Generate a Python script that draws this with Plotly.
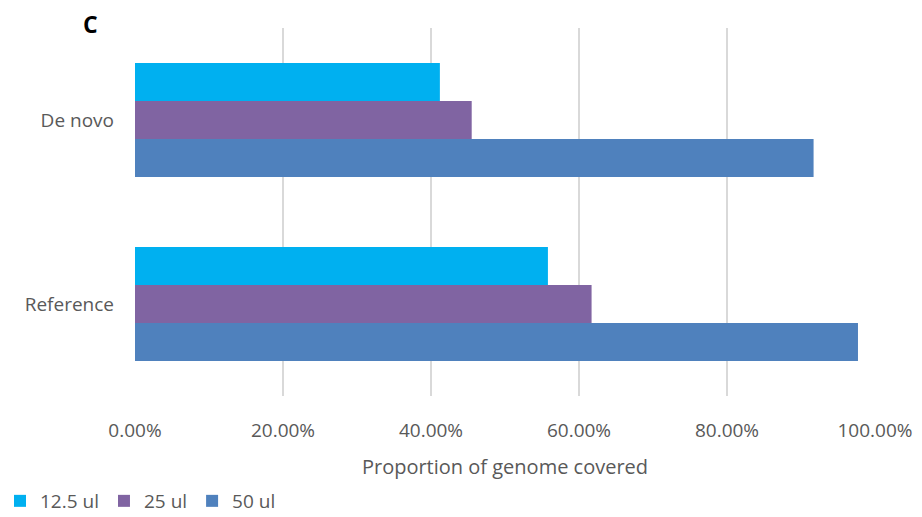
import plotly.graph_objects as go

# Assembly method categories (top to bottom)
categories = ["De novo", "Reference"]

# Proportion of genome covered per input volume
series_names = ["12.5 ul", "25 ul", "50 ul"]
cov_12_5 = [0.412, 0.558]
cov_25 = [0.455, 0.617]
cov_50 = [0.917, 0.977]

colors = ["#00B0F0", "#8064A2", "#4F81BD"]
values = [cov_12_5, cov_25, cov_50]

FONT = "Open Sans"
GREY = "#595959"

fig = go.Figure()
for name, vals, col in zip(series_names, values, colors):
    fig.add_trace(go.Bar(
        y=categories, x=vals, name=name, orientation="h",
        marker=dict(color=col, line=dict(width=0)),
    ))

fig.update_layout(
    width=922, height=517,
    barmode="group", bargap=0.38, bargroupgap=0,
    plot_bgcolor="white", paper_bgcolor="white",
    margin=dict(l=135, r=47, t=28, b=121),
    font=dict(family=FONT, color=GREY, size=19),
    title=dict(text="<b>C</b>", x=83/922, y=1 - 25/517, xref="container", yref="container",
               xanchor="left", yanchor="middle",
               font=dict(family=FONT, size=23, color="black")),
    xaxis=dict(
        range=[0, 1.0], dtick=0.2, tickformat=".2%",
        showgrid=True, gridcolor="#D9D9D9", gridwidth=1.5,
        zeroline=False, showline=False, automargin=False,
        ticks="", ticklabelstandoff=21,
        tickfont=dict(family=FONT, size=19, color=GREY),
        title=dict(text="Proportion of genome covered", standoff=17,
                   font=dict(family=FONT, size=20, color=GREY)),
        fixedrange=True,
    ),
    yaxis=dict(
        autorange="reversed", showgrid=False, zeroline=False, showline=False,
        automargin=False,
        ticks="", ticklabelstandoff=20,
        tickfont=dict(family=FONT, size=19, color=GREY),
    ),
    legend=dict(
        orientation="h", xref="container", yref="container",
        x=0.0, y=1 - 501/517, xanchor="left", yanchor="middle",
        font=dict(family=FONT, size=19, color=GREY),
        itemwidth=30, traceorder="normal",
    ),
    showlegend=True,
)

fig.write_html("out.html")
